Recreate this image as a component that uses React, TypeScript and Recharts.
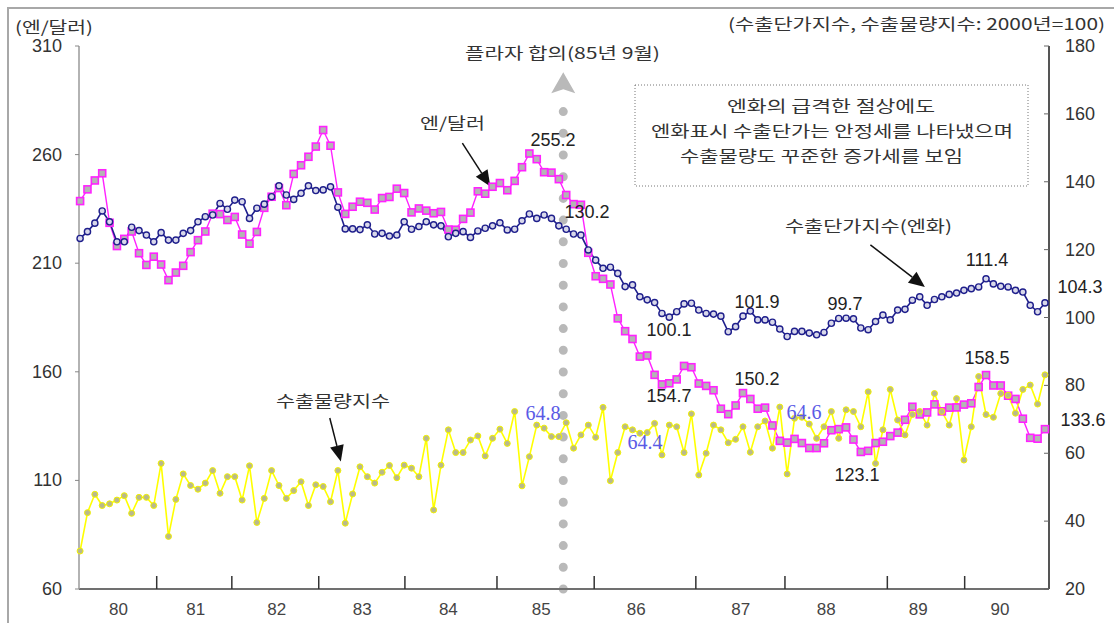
import React from 'react';
import { Line, LineChart, ReferenceLine, XAxis, YAxis } from 'recharts';

// monthly, Jan 1980 .. Dec 1990
const yenPerDollar = [
  238.6, 244.0, 248.1, 251.4, 228.6, 217.9, 221.2, 224.6, 214.6, 209.2, 213.0, 209.4,
  202.2, 205.7, 208.8, 215.1, 220.6, 224.6, 232.8, 232.6, 229.9, 231.3, 223.2, 219.0,
  224.4, 235.5, 240.6, 244.6, 236.7, 251.1, 255.1, 259.0, 263.7, 271.3, 264.1, 242.6,
  232.7, 236.0, 238.3, 237.8, 234.7, 240.0, 240.5, 244.3, 242.3, 233.4, 235.2, 234.2,
  233.0, 233.6, 225.5, 225.4, 230.4, 233.3, 243.1, 242.0, 245.2, 246.9, 243.6, 247.9,
  254.2, 260.5, 257.9, 251.9, 251.7, 248.7, 241.4, 237.2, 236.9, 214.8, 204.0, 202.8,
  200.2, 184.6, 178.7, 175.1, 167.0, 167.5, 158.6, 154.2, 154.7, 156.5, 162.7, 162.1,
  154.6, 153.5, 151.5, 143.0, 140.5, 144.5, 150.2, 147.5, 143.0, 143.5, 135.3, 128.2,
  127.4, 129.1, 127.2, 124.9, 124.9, 127.1, 133.1, 133.6, 134.4, 128.8, 123.1, 123.6,
  127.2, 127.8, 130.4, 132.0, 137.9, 143.9, 140.4, 141.3, 145.0, 141.8, 143.5, 143.6,
  144.9, 145.5, 153.0, 158.5, 153.7, 153.7, 149.0, 147.5, 138.4, 129.6, 129.2, 133.6,
];

const exportPriceIndex = [
  123.3, 125.3, 127.8, 131.4, 128.2, 122.3, 122.3, 126.6, 125.6, 124.3, 122.3, 125.0,
  122.8, 122.8, 124.8, 125.6, 128.2, 129.7, 130.2, 133.6, 131.9, 134.6, 134.1, 129.2,
  132.2, 133.4, 135.6, 138.8, 136.1, 134.8, 136.6, 138.8, 137.4, 137.6, 138.5, 132.5,
  126.1, 126.1, 125.9, 127.3, 124.6, 124.8, 124.0, 124.3, 128.2, 126.0, 126.8, 128.2,
  127.3, 127.0, 123.8, 124.8, 125.3, 123.6, 125.5, 126.3, 127.0, 127.9, 125.8, 126.0,
  128.5, 130.5, 129.2, 130.2, 129.2, 127.0, 126.0, 124.6, 124.3, 119.9, 116.9, 114.5,
  114.8, 113.0, 109.1, 109.6, 106.1, 105.2, 104.4, 101.2, 100.1, 101.7, 104.0, 104.2,
  102.2, 101.2, 101.0, 100.4, 95.8, 97.3, 100.4, 101.9, 99.3, 99.3, 98.6, 96.6,
  94.4, 95.9, 95.9, 95.4, 94.9, 95.6, 98.3, 99.7, 99.8, 99.6, 96.9, 96.4,
  98.8, 100.7, 99.3, 102.2, 102.4, 105.1, 106.1, 103.6, 105.3, 106.1, 106.8, 107.2,
  108.0, 108.5, 109.0, 111.4, 109.9, 109.2, 109.0, 108.0, 107.5, 103.6, 101.7, 104.3,
];

const exportVolumeIndex = [
  31.2, 42.5, 47.9, 44.6, 45.1, 46.2, 47.5, 42.3, 47.0, 47.0, 44.6, 57.0,
  35.5, 46.4, 53.9, 50.5, 49.4, 51.2, 54.9, 48.2, 53.1, 53.1, 46.2, 56.3,
  39.6, 46.7, 54.9, 50.5, 46.7, 49.0, 51.6, 44.6, 50.7, 50.2, 45.7, 54.9,
  39.4, 48.0, 56.0, 53.1, 51.2, 54.4, 56.4, 52.8, 56.5, 55.6, 53.1, 64.4,
  43.3, 56.5, 66.9, 60.2, 60.2, 63.9, 65.1, 59.2, 64.4, 67.1, 62.9, 72.3,
  50.4, 59.0, 68.3, 67.4, 64.9, 64.9, 69.0, 61.5, 65.4, 68.3, 64.7, 73.5,
  51.9, 60.2, 67.8, 66.9, 65.9, 66.1, 68.8, 59.5, 68.3, 67.8, 60.2, 71.6,
  53.6, 60.0, 68.3, 66.9, 63.1, 64.1, 67.8, 60.3, 67.8, 69.5, 61.5, 73.6,
  53.9, 70.3, 70.6, 68.6, 64.4, 67.8, 72.3, 64.4, 72.8, 72.3, 67.8, 78.1,
  57.0, 66.9, 78.8, 69.8, 65.4, 71.4, 72.3, 68.3, 77.6, 72.3, 68.3, 76.1,
  58.0, 67.8, 82.6, 71.4, 70.6, 77.6, 77.1, 71.8, 78.8, 80.1, 74.5, 83.1,
];

const yearLabels = ['80', '81', '82', '83', '84', '85', '86', '87', '88', '89', '90'];
// where the year labels and the year tick marks sit on the month axis
const yearLabelPos = [5.2, 15.7, 26.7, 38.3, 50, 62.6, 75.5, 89.7, 101.3, 113.8, 124.9];
const yearTickPos = [10.4, 20.6, 32.4, 44.1, 56.6, 69.8, 83.6, 95.7, 109.6, 120.1];
const leftTicks = [60, 110, 160, 210, 260, 310];
const rightTicks = [20, 40, 60, 80, 100, 120, 140, 160, 180];

const rows = yenPerDollar.map((v, i) => ({
  m: i,
  yen: v,
  price: exportPriceIndex[i],
  volume: exportVolumeIndex[i],
}));

const NUM_FONT = '"Liberation Sans", Arial, sans-serif';
const KR_FONT = '"Noto Sans CJK KR", "Liberation Sans", sans-serif';

const XTick = (p: any) => {
  const { x, y, payload } = p;
  const li = yearLabelPos.indexOf(payload.value);
  if (li >= 0) {
    return (
      <text x={x} y={y + 26} textAnchor="middle" fontSize={17} fill="#444" fontFamily={NUM_FONT}>
        {yearLabels[li]}
      </text>
    );
  }
  return <line x1={x} x2={x} y1={y - 13} y2={y} stroke="#333" strokeWidth={1.5} />;
};

const LeftTick = (p: any) => {
  const { x, y, payload } = p;
  return (
    <g>
      <line x1={x - 4} x2={x} y1={y} y2={y} stroke="#888" />
      <text x={x - 17} y={y} dy={6} textAnchor="end" fontSize={18} fill="#333" fontFamily={NUM_FONT}>
        {payload.value}
      </text>
    </g>
  );
};

const RightTick = (p: any) => {
  const { x, y, payload } = p;
  return (
    <g>
      <line x1={x - 5} x2={x} y1={y} y2={y} stroke="#666" />
      <text x={x + 16} y={y} dy={6} textAnchor="start" fontSize={18} fill="#333" fontFamily={NUM_FONT}>
        {payload.value}
      </text>
    </g>
  );
};

const SquareDot = (p: any) => {
  const { cx, cy, index } = p;
  if (cx == null || cy == null) return <g key={`sq${index}`} />;
  return (
    <rect key={`sq${index}`} x={cx - 3.5} y={cy - 3.5} width={7} height={7} fill="#b4b4b4" stroke="#ff22ff" strokeWidth={1.6} />
  );
};

const NavyDot = (p: any) => {
  const { cx, cy, index } = p;
  if (cx == null || cy == null) return <g key={`nv${index}`} />;
  return <circle key={`nv${index}`} cx={cx} cy={cy} r={3.1} fill="#d8d8ea" stroke="#1f1f8c" strokeWidth={1.4} />;
};

const YellowDot = (p: any) => {
  const { cx, cy, index } = p;
  if (cx == null || cy == null) return <g key={`yl${index}`} />;
  return <circle key={`yl${index}`} cx={cx} cy={cy} r={3} fill="#b9b98c" stroke="#f2f200" strokeWidth={1} />;
};

const arrowShape = (p: any) => {
  const { x1, y1, x2, y2 } = p;
  const a = Math.atan2(y2 - y1, x2 - x1);
  const head = 16;
  const half = 7;
  const bx = x2 - head * Math.cos(a);
  const by = y2 - head * Math.sin(a);
  const nx = -Math.sin(a) * half;
  const ny = Math.cos(a) * half;
  return (
    <g>
      <line x1={x1} y1={y1} x2={bx} y2={by} stroke="#111" strokeWidth={1.5} />
      <polygon points={`${x2},${y2} ${bx + nx},${by + ny} ${bx - nx},${by - ny}`} fill="#111" />
    </g>
  );
};

const plazaShape = (p: any) => {
  const { x1, y1, y2 } = p;
  const bottom = Math.max(y1, y2);
  const top = Math.min(y1, y2);
  return (
    <g>
      <line
        x1={x1}
        y1={bottom}
        x2={x1}
        y2={top}
        stroke="#b9b9b9"
        strokeWidth={9}
        strokeLinecap="round"
        strokeDasharray="0 21.7"
      />
      <polygon
        points={`${x1},${top - 28} ${x1 + 12},${top - 7} ${x1},${top - 11} ${x1 - 12},${top - 7}`}
        fill="#b9b9b9"
      />
    </g>
  );
};

const KText = ({ x, y, w, children, size = 16 }: any) => (
  <text
    x={x}
    y={y}
    textLength={w}
    lengthAdjust="spacingAndGlyphs"
    dominantBaseline="central"
    fontSize={size}
    fill="#333"
    fontFamily={KR_FONT}
  >
    {children}
  </text>
);

const NText = ({ x, y, children, color = '#222', serif = false }: any) => (
  <text
    x={x}
    y={y}
    textAnchor="middle"
    dominantBaseline="central"
    fontSize={serif ? 20 : 18}
    fill={color}
    fontFamily={serif ? '"Liberation Serif", serif' : NUM_FONT}
  >
    {children}
  </text>
);

export default function App() {
  return (
    <div style={{ position: 'absolute', left: 0, top: 0, width: 1114, height: 623, background: '#fff' }}>
      <div
        style={{
          position: 'absolute',
          left: 7,
          top: 7,
          width: 1107,
          height: 616,
          borderTop: '2px solid #a8a8a8',
          borderLeft: '2px solid #a8a8a8',
          boxSizing: 'border-box',
        }}
      />
      <div style={{ position: 'absolute', left: 0, top: 0 }}>
        <LineChart width={1114} height={623} data={rows} margin={{ top: 46, right: 5, bottom: 4, left: 19 }}>
          <XAxis
            dataKey="m"
            type="number"
            domain={[-0.15, 131.55]}
            ticks={[...yearTickPos, ...yearLabelPos].sort((a, b) => a - b)}
            interval={0}
            height={30}
            tickLine={false}
            tickSize={0}
            tickMargin={0}
            tick={XTick}
            axisLine={{ stroke: '#707070', strokeWidth: 2 }}
          />
          <YAxis
            yAxisId="left"
            domain={[60, 310]}
            ticks={leftTicks}
            width={60}
            tickLine={false}
            tickSize={0}
            tickMargin={0}
            tick={LeftTick}
            axisLine={{ stroke: '#9a9a9a', strokeWidth: 1.5 }}
          />
          <YAxis
            yAxisId="right"
            orientation="right"
            domain={[20, 180]}
            ticks={rightTicks}
            width={60}
            tickLine={false}
            tickSize={0}
            tickMargin={0}
            tick={RightTick}
            axisLine={{ stroke: '#555', strokeWidth: 2 }}
          />
          <Line
            yAxisId="left"
            dataKey="yen"
            type="linear"
            stroke="#ff22ff"
            strokeWidth={1.4}
            dot={SquareDot}
            activeDot={false}
            isAnimationActive={false}
          />
          <Line
            yAxisId="right"
            dataKey="price"
            type="linear"
            stroke="#1f1f8c"
            strokeWidth={1.6}
            dot={NavyDot}
            activeDot={false}
            isAnimationActive={false}
          />
          <Line
            yAxisId="right"
            dataKey="volume"
            type="linear"
            stroke="#ffff00"
            strokeWidth={1.6}
            dot={YellowDot}
            activeDot={false}
            isAnimationActive={false}
          />
          <ReferenceLine
            yAxisId="left"
            segment={[{ x: 65.6, y: 60 }, { x: 65.6, y: 285 }]}
            shape={plazaShape}
            ifOverflow="visible"
          />
          <ReferenceLine
            yAxisId="left"
            segment={[{ x: 51.9, y: 265.3 }, { x: 55.7, y: 245.3 }]}
            shape={arrowShape}
            ifOverflow="visible"
          />
          <ReferenceLine
            yAxisId="right"
            segment={[{ x: 107.3, y: 121.4 }, { x: 114.7, y: 109.0 }]}
            shape={arrowShape}
            ifOverflow="visible"
          />
          <ReferenceLine
            yAxisId="right"
            segment={[{ x: 33.9, y: 70.4 }, { x: 35.4, y: 57.6 }]}
            shape={arrowShape}
            ifOverflow="visible"
          />
        </LineChart>
      </div>
      <svg
        width={1114}
        height={623}
        style={{ position: 'absolute', left: 0, top: 0, pointerEvents: 'none' }}
      >
        <KText x={15} y={26} w={78}>(엔/달러)</KText>
        <KText x={728} y={23} w={377}>(수출단가지수, 수출물량지수: 2000년=100)</KText>
        <KText x={465} y={52} w={195}>플라자 합의(85년 9월)</KText>
        <rect x={635} y={85} width={393} height={101} fill="none" stroke="#777" strokeDasharray="1 2" />
        <KText x={727} y={105} w={208}>엔화의 급격한 절상에도</KText>
        <KText x={651} y={130} w={362}>엔화표시 수출단가는 안정세를 나타냈으며</KText>
        <KText x={680} y={155} w={283}>수출물량도 꾸준한 증가세를 보임</KText>
        <KText x={420} y={122} w={65}>엔/달러</KText>
        <KText x={785} y={225} w={167}>수출단가지수(엔화)</KText>
        <KText x={276} y={400} w={114}>수출물량지수</KText>
        <NText x={553} y={140}>255.2</NText>
        <NText x={587} y={212}>130.2</NText>
        <NText x={669} y={330}>100.1</NText>
        <NText x={757} y={302}>101.9</NText>
        <NText x={845} y={304}>99.7</NText>
        <NText x={987} y={260}>111.4</NText>
        <NText x={1080} y={287}>104.3</NText>
        <NText x={669} y={396}>154.7</NText>
        <NText x={757} y={379}>150.2</NText>
        <NText x={857} y={475}>123.1</NText>
        <NText x={987} y={358}>158.5</NText>
        <NText x={1083} y={420}>133.6</NText>
        <NText x={543} y={413} color="#5a5ae6" serif>64.8</NText>
        <NText x={645} y={442} color="#5a5ae6" serif>64.4</NText>
        <NText x={804} y={412} color="#5a5ae6" serif>64.6</NText>
      </svg>
    </div>
  );
}
